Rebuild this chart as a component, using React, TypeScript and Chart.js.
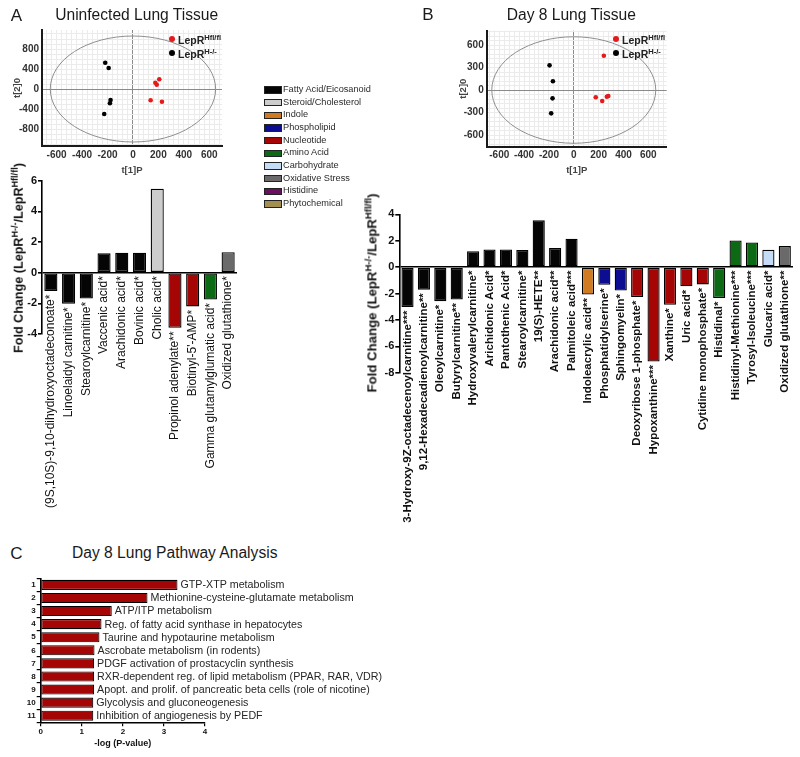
import React, { useEffect, useRef } from 'react';
import { Chart, registerables } from 'chart.js';

Chart.register(...registerables);

const FONT = '"Liberation Sans", Arial, Helvetica, sans-serif';
Chart.defaults.font.family = FONT;

// ---------- Panel A / B score plots ----------
const scoreA_HflX = [207, 176, 187, 139, 228];
const scoreA_HflY = [194, 126, 86, -226, -254];
const scoreA_KoX = [-218, -191, -176, -181, -226];
const scoreA_KoY = [526, 420, -220, -286, -500];
const ellipseA = { rx: 650, ry: 1060 };

const scoreB_HflX = [242, 177, 229, 266, 278];
const scoreB_HflY = [457, -97, -147, -89, -80];
const scoreB_KoX = [-195, -168, -171, -182];
const scoreB_KoY = [329, 116, -111, -311];
const ellipseB = { rx: 660, ry: 710 };

// ---------- Category legend ----------
const categories = [
  'Fatty Acid/Eicosanoid',
  'Steroid/Cholesterol',
  'Indole',
  'Phospholipid',
  'Nucleotide',
  'Amino Acid',
  'Carbohydrate',
  'Oxidative Stress',
  'Histidine',
  'Phytochemical',
];
const categoryColors: Record<string, string> = {
  'Fatty Acid/Eicosanoid': '#050505',
  'Steroid/Cholesterol': '#cdcdcd',
  'Indole': '#d07a22',
  'Phospholipid': '#0d0d92',
  'Nucleotide': '#a60505',
  'Amino Acid': '#0d6a14',
  'Carbohydrate': '#c4dcf6',
  'Oxidative Stress': '#6a6a6a',
  'Histidine': '#6b1060',
  'Phytochemical': '#a39050',
};

// ---------- Panel A fold change ----------
const labelsA = [
  '(9S,10S)-9,10-dihydroxyoctadeconoate*',
  'Linoelaidyl carnitine*',
  'Stearoylcarnitine*',
  'Vaccenic acid*',
  'Arachidonic acid*',
  'Bovinic acid*',
  'Cholic acid*',
  'Propinol adenylate**',
  "Biotinyl-5'-AMP*",
  'Gamma glutamylglumatic acid*',
  'Oxidized glutathione*',
];
const valuesA = [-1.2, -2.03, -1.68, 1.26, 1.3, 1.3, 5.47, -3.6, -2.2, -1.75, 1.33];
const catsA = [
  'Fatty Acid/Eicosanoid', 'Fatty Acid/Eicosanoid', 'Fatty Acid/Eicosanoid', 'Fatty Acid/Eicosanoid',
  'Fatty Acid/Eicosanoid', 'Fatty Acid/Eicosanoid', 'Steroid/Cholesterol', 'Nucleotide', 'Nucleotide',
  'Amino Acid', 'Oxidative Stress',
];

// ---------- Panel B fold change ----------
const labelsB = [
  '3-Hydroxy-9Z-octadecenoylcarnitine***',
  '9,12-Hexadecadienoylcarnitine**',
  'Oleoylcarnitine*',
  'Butyrylcarnitine**',
  'Hydroxyvalerylcarnitine*',
  'Arichidonic Acid*',
  'Pantothenic Acid*',
  'Stearoylcarnitine*',
  '19(S)-HETE**',
  'Arachidonic acid**',
  'Palmitoleic acid***',
  'Indoleacrylic acid**',
  'Phosphatidylserine*',
  'Sphingomyelin*',
  'Deoxyribose 1-phosphate*',
  'Hypoxanthine***',
  'Xanthine*',
  'Uric acid*',
  'Cytidine monophosphate*',
  'Histidinal*',
  'Histidinyl-Methionine***',
  'Tyrosyl-Isoleucine***',
  'Glucaric acid*',
  'Oxidized glutathione**',
];
const valuesB = [
  -3.03, -1.71, -2.58, -2.45, 1.21, 1.34, 1.34, 1.3, 3.54, 1.44, 2.15, -2.08, -1.34, -1.77, -2.27, -7.15,
  -2.85, -1.46, -1.31, -2.35, 2.02, 1.87, 1.32, 1.59,
];
const catsB = [
  'Fatty Acid/Eicosanoid', 'Fatty Acid/Eicosanoid', 'Fatty Acid/Eicosanoid', 'Fatty Acid/Eicosanoid',
  'Fatty Acid/Eicosanoid', 'Fatty Acid/Eicosanoid', 'Fatty Acid/Eicosanoid', 'Fatty Acid/Eicosanoid',
  'Fatty Acid/Eicosanoid', 'Fatty Acid/Eicosanoid', 'Fatty Acid/Eicosanoid', 'Indole', 'Phospholipid',
  'Phospholipid', 'Nucleotide', 'Nucleotide', 'Nucleotide', 'Nucleotide', 'Nucleotide', 'Amino Acid',
  'Amino Acid', 'Amino Acid', 'Carbohydrate', 'Oxidative Stress',
];

// ---------- Panel C pathway analysis ----------
const pathwayRanks = ['1', '2', '3', '4', '5', '6', '7', '8', '9', '10', '11'];
const pathwayNames = [
  'GTP-XTP metabolism',
  'Methionine-cysteine-glutamate metabolism',
  'ATP/ITP metabolism',
  'Reg. of fatty acid synthase in hepatocytes',
  'Taurine and hypotaurine metabolism',
  'Ascrobate metabolism (in rodents)',
  'PDGF activation of prostacyclin synthesis',
  'RXR-dependent reg. of lipid metabolism (PPAR, RAR, VDR)',
  'Apopt. and prolif. of pancreatic beta cells (role of nicotine)',
  'Glycolysis and gluconeogenesis',
  'Inhibition of angiogenesis by PEDF',
];
const pathwayValues = [3.33, 2.6, 1.73, 1.48, 1.43, 1.31, 1.3, 1.3, 1.3, 1.28, 1.28];

const RED = '#e41a1c';

// ---------- plugins ----------
const ellipsePlugin = {
  id: 'ellipse',
  beforeDatasetsDraw(chart: any, _a: any, opts: any) {
    const { x, y } = chart.scales;
    const cx = x.getPixelForValue(0);
    const cy = y.getPixelForValue(0);
    const rx = Math.abs(x.getPixelForValue(opts.rx) - cx);
    const ry = Math.abs(y.getPixelForValue(opts.ry) - cy);
    const ctx = chart.ctx;
    ctx.save();
    ctx.strokeStyle = '#8f8f8f';
    ctx.lineWidth = 1;
    ctx.beginPath();
    ctx.ellipse(cx, cy, rx, ry, 0, 0, Math.PI * 2);
    ctx.stroke();
    ctx.restore();
  },
};

const vLabelPlugin = {
  id: 'vLabels',
  afterDatasetsDraw(chart: any, _a: any, opts: any) {
    const meta = chart.getDatasetMeta(0);
    const zero = chart.scales.y.getPixelForValue(0);
    const ctx = chart.ctx;
    ctx.save();
    ctx.font = opts.font;
    ctx.fillStyle = opts.color;
    ctx.textAlign = 'right';
    ctx.textBaseline = 'middle';
    meta.data.forEach((bar: any, i: number) => {
      const y0 = Math.max(zero, bar.y) + opts.gap;
      ctx.save();
      ctx.translate(bar.x, y0);
      ctx.rotate(-Math.PI / 2);
      ctx.fillText(String(chart.data.labels[i]), 0, 0);
      ctx.restore();
    });
    ctx.restore();
  },
};

const hLabelPlugin = {
  id: 'hLabels',
  afterDatasetsDraw(chart: any, _a: any, opts: any) {
    const meta = chart.getDatasetMeta(0);
    const ctx = chart.ctx;
    ctx.save();
    ctx.font = opts.font;
    ctx.fillStyle = opts.color;
    ctx.textAlign = 'left';
    ctx.textBaseline = 'middle';
    meta.data.forEach((bar: any, i: number) => {
      ctx.fillText(opts.names[i], bar.x + opts.gap, bar.y + 0.5);
    });
    ctx.restore();
  },
};

// ---------- configs ----------
function scoreConfig(p: any): any {
  const pts = (xs: number[], ys: number[]) => xs.map((x, i) => ({ x, y: ys[i] }));
  return {
    type: 'scatter',
    data: {
      datasets: [
        { data: pts(p.hflX, p.hflY), backgroundColor: RED, borderColor: RED, pointRadius: 2.3, borderWidth: 0 },
        { data: pts(p.koX, p.koY), backgroundColor: '#000', borderColor: '#000', pointRadius: 2.3, borderWidth: 0 },
      ],
    },
    options: {
      responsive: false,
      animation: false,
      devicePixelRatio: 1,
      layout: { padding: { left: 0, top: p.padTop, right: p.padRight, bottom: 0 } },
      plugins: {
        legend: { display: false },
        tooltip: { enabled: false },
        ellipse: p.ellipse,
      },
      scales: {
        x: {
          type: 'linear',
          min: p.xMin,
          max: p.xMax,
          afterFit: (s: any) => { s.height = p.xAxisH; },
          border: { color: '#1a1a1a', width: 2 },
          grid: {
            color: (c: any) => (Math.round(c.tick.value) === 0 ? '#8a8a8a' : '#ebebeb'),
            lineWidth: 1,
            drawTicks: false,
          },
          ticks: {
            stepSize: 40,
            includeBounds: false,
            autoSkip: false,
            maxTicksLimit: 1000,
            maxRotation: 0,
            padding: 3,
            color: '#333',
            font: { size: 10, weight: 'bold' },
            callback: (v: any) => {
              const n = Math.round(v);
              return n % 200 === 0 && Math.abs(n) <= 600 ? String(n) : '';
            },
          },
          title: { display: true, text: 't[1]P', color: '#444', font: { size: 9.5, weight: 'bold' }, padding: { top: 0, bottom: 4 } },
        },
        y: {
          type: 'linear',
          min: p.yMin,
          max: p.yMax,
          afterFit: (s: any) => { s.width = p.yAxisW; },
          border: { color: '#1a1a1a', width: 2 },
          grid: {
            color: (c: any) => (Math.round(c.tick.value) === 0 ? '#8a8a8a' : '#ebebeb'),
            lineWidth: 1,
            drawTicks: false,
          },
          ticks: {
            stepSize: p.yStep,
            includeBounds: false,
            autoSkip: false,
            maxTicksLimit: 1000,
            padding: 3,
            color: '#333',
            font: { size: 10, weight: 'bold' },
            callback: (v: any) => {
              const n = Math.round(v);
              return n % p.yLabelStep === 0 && Math.abs(n) <= p.yLabelMax ? String(n) : '';
            },
          },
          title: { display: true, text: 't[2]0', color: '#444', font: { size: 9.5, weight: 'bold' }, padding: { top: p.yTitlePad, bottom: 0 } },
        },
      },
    },
    plugins: [ellipsePlugin],
  };
}

function foldConfig(p: any): any {
  return {
    type: 'bar',
    data: {
      labels: p.labels,
      datasets: [
        {
          data: p.values,
          backgroundColor: p.cats.map((c: string) => categoryColors[c]),
          borderColor: '#000',
          borderWidth: 1.3,
          borderSkipped: false,
          barPercentage: 0.74,
          categoryPercentage: 1,
        },
      ],
    },
    options: {
      responsive: false,
      animation: false,
      devicePixelRatio: 1,
      layout: { padding: { left: 0, top: p.padTop, right: p.padRight, bottom: p.padBottom } },
      plugins: {
        legend: { display: false },
        tooltip: { enabled: false },
        vLabels: { font: p.labelFont, color: '#111', gap: 3.5 },
      },
      scales: {
        x: { display: false },
        y: {
          min: p.yMin,
          max: p.yMax,
          afterFit: (s: any) => { s.width = p.yAxisW; },
          border: { color: '#000', width: 1.6 },
          grid: {
            color: (c: any) => (c.tick.value === 0 ? '#000' : 'rgba(0,0,0,0)'),
            lineWidth: 1.6,
            tickColor: '#000',
            tickLength: 4,
          },
          ticks: { stepSize: 2, padding: 1, color: '#111', font: { size: 11, weight: 'bold' } },
        },
      },
    },
    plugins: [vLabelPlugin],
  };
}

function pathwayConfig(): any {
  return {
    type: 'bar',
    data: {
      labels: pathwayRanks,
      datasets: [
        {
          data: pathwayValues,
          backgroundColor: '#a50505',
          borderColor: '#000',
          borderWidth: 1.1,
          borderSkipped: false,
          barPercentage: 0.77,
          categoryPercentage: 1,
        },
      ],
    },
    options: {
      indexAxis: 'y',
      responsive: false,
      animation: false,
      devicePixelRatio: 1,
      layout: { padding: { left: 0, top: 8.3, right: 195, bottom: 0 } },
      plugins: {
        legend: { display: false },
        tooltip: { enabled: false },
        hLabels: { font: '10.7px ' + FONT, color: '#262626', gap: 3, names: pathwayNames },
      },
      scales: {
        x: {
          type: 'linear',
          min: 0,
          max: 4,
          afterFit: (s: any) => { s.height = 34.7; },
          border: { color: '#000', width: 1.6 },
          grid: { drawOnChartArea: false, tickColor: '#000', tickLength: 4, lineWidth: 1.2 },
          ticks: { stepSize: 1, padding: 1, color: '#111', font: { size: 8, weight: 'bold' } },
          title: { display: true, text: '-log (P-value)', color: '#111', font: { size: 9, weight: 'bold' }, padding: { top: 0, bottom: 7.6 } },
        },
        y: {
          afterFit: (s: any) => { s.width = 40.7; },
          border: { color: '#000', width: 1.6 },
          grid: { drawOnChartArea: false, tickColor: '#000', tickLength: 4, lineWidth: 1.2 },
          ticks: { padding: 1, color: '#111', font: { size: 8, weight: 'bold' } },
        },
      },
    },
    plugins: [hLabelPlugin],
  };
}

// ---------- HTML helpers ----------
const sup: React.CSSProperties = { fontSize: '0.72em', position: 'relative', top: '-0.5em' };

function Centered(props: { x: number; y: number; size: number; bold?: boolean; rotate?: boolean; color?: string; children: React.ReactNode }) {
  return (
    <div
      style={{
        position: 'absolute',
        left: props.x,
        top: props.y,
        transform: 'translate(-50%,-50%)' + (props.rotate ? ' rotate(-90deg)' : ''),
        fontSize: props.size,
        fontWeight: props.bold ? 'bold' : 'normal',
        color: props.color || '#1a1a1a',
        whiteSpace: 'nowrap',
        lineHeight: 1,
      }}
    >
      {props.children}
    </div>
  );
}

function ScoreLegend(props: { x: number; y1: number; y2: number }) {
  const rows = [
    { y: props.y1, color: RED, sup: 'Hfl/fl' },
    { y: props.y2, color: '#000', sup: 'H-/-' },
  ];
  return (
    <>
      {rows.map((r) => (
        <React.Fragment key={r.sup}>
          <div style={{ position: 'absolute', left: props.x - 3.25, top: r.y - 3.25, width: 6.5, height: 6.5, borderRadius: '50%', background: r.color }} />
          <div style={{ position: 'absolute', left: props.x + 6, top: r.y + 1, transform: 'translateY(-50%)', fontSize: 10.5, fontWeight: 'bold', color: '#222', whiteSpace: 'nowrap', lineHeight: 1 }}>
            LepR<span style={sup}>{r.sup}</span>
          </div>
        </React.Fragment>
      ))}
    </>
  );
}

export default function App() {
  const refScoreA = useRef<HTMLCanvasElement>(null);
  const refScoreB = useRef<HTMLCanvasElement>(null);
  const refFoldA = useRef<HTMLCanvasElement>(null);
  const refFoldB = useRef<HTMLCanvasElement>(null);
  const refPath = useRef<HTMLCanvasElement>(null);

  useEffect(() => {
    const charts: Chart[] = [];
    charts.push(
      new Chart(
        refScoreA.current!,
        scoreConfig({
          hflX: scoreA_HflX, hflY: scoreA_HflY, koX: scoreA_KoX, koY: scoreA_KoY, ellipse: ellipseA,
          xMin: -715, xMax: 700, yMin: -1140, yMax: 1180, yStep: 100, yLabelStep: 400, yLabelMax: 800,
          padTop: 30, padRight: 18, xAxisH: 34, yAxisW: 42, yTitlePad: 12,
        })
      )
    );
    charts.push(
      new Chart(
        refScoreB.current!,
        scoreConfig({
          hflX: scoreB_HflX, hflY: scoreB_HflY, koX: scoreB_KoX, koY: scoreB_KoY, ellipse: ellipseB,
          xMin: -701, xMax: 748, yMin: -756, yMax: 791, yStep: 60, yLabelStep: 300, yLabelMax: 600,
          padTop: 30.7, padRight: 13.3, xAxisH: 33.3, yAxisW: 46.7, yTitlePad: 17.3,
        })
      )
    );
    charts.push(
      new Chart(
        refFoldA.current!,
        foldConfig({
          labels: labelsA, values: valuesA, cats: catsA, yMin: -4, yMax: 6,
          padTop: 10.7, padRight: 8, padBottom: 181, yAxisW: 42, labelFont: '12px ' + FONT,
        })
      )
    );
    charts.push(
      new Chart(
        refFoldB.current!,
        foldConfig({
          labels: labelsB, values: valuesB, cats: catsB, yMin: -8, yMax: 4,
          padTop: 14.3, padRight: 7, padBottom: 167.3, yAxisW: 39.3, labelFont: 'bold 11.5px ' + FONT,
        })
      )
    );
    charts.push(new Chart(refPath.current!, pathwayConfig()));
    return () => charts.forEach((c) => c.destroy());
  }, []);

  const foldTitle = (
    <>
      Fold Change (LepR<span style={sup}>H-/-</span>/LepR<span style={sup}>Hfl/fl</span>)
    </>
  );

  return (
    <div style={{ position: 'absolute', left: 0, top: 0, width: 800, height: 757, background: '#fff', overflow: 'hidden', fontFamily: FONT }}>
      <canvas ref={refScoreA} width={240} height={180} style={{ position: 'absolute', left: 0, top: 0 }} />
      <canvas ref={refScoreB} width={240} height={180} style={{ position: 'absolute', left: 440, top: 0 }} />
      <canvas ref={refFoldA} width={245} height={345} style={{ position: 'absolute', left: 0, top: 170 }} />
      <canvas ref={refFoldB} width={440} height={340} style={{ position: 'absolute', left: 360, top: 200 }} />
      <canvas ref={refPath} width={400} height={187} style={{ position: 'absolute', left: 0, top: 570 }} />

      <Centered x={16.5} y={15} size={17}>A</Centered>
      <Centered x={136.7} y={15} size={15.6}>Uninfected Lung Tissue</Centered>
      <Centered x={428} y={14} size={17}>B</Centered>
      <Centered x={571.3} y={15} size={15.6}>Day 8 Lung Tissue</Centered>
      <Centered x={16.5} y={553} size={17}>C</Centered>
      <div style={{ position: 'absolute', left: 72, top: 553, transform: 'translateY(-50%)', fontSize: 15.6, color: '#1a1a1a', whiteSpace: 'nowrap', lineHeight: 1 }}>
        Day 8 Lung Pathway Analysis
      </div>

      <ScoreLegend x={172} y1={39} y2={53} />
      <ScoreLegend x={616} y1={39} y2={53} />

      <Centered x={18.5} y={257.5} size={12.6} bold rotate color="#111">{foldTitle}</Centered>
      <Centered x={371.5} y={293} size={13.2} bold rotate color="#111">{foldTitle}</Centered>

      {categories.map((c, i) => (
        <React.Fragment key={c}>
          <div style={{ position: 'absolute', left: 263.5, top: 86.3 + i * 12.67, width: 16.5, height: 5.5, background: categoryColors[c], border: '1px solid #222' }} />
          <div style={{ position: 'absolute', left: 283, top: 90 + i * 12.67, transform: 'translateY(-50%)', fontSize: 9.2, color: '#2a2a2a', whiteSpace: 'nowrap', lineHeight: 1 }}>
            {c}
          </div>
        </React.Fragment>
      ))}
    </div>
  );
}
